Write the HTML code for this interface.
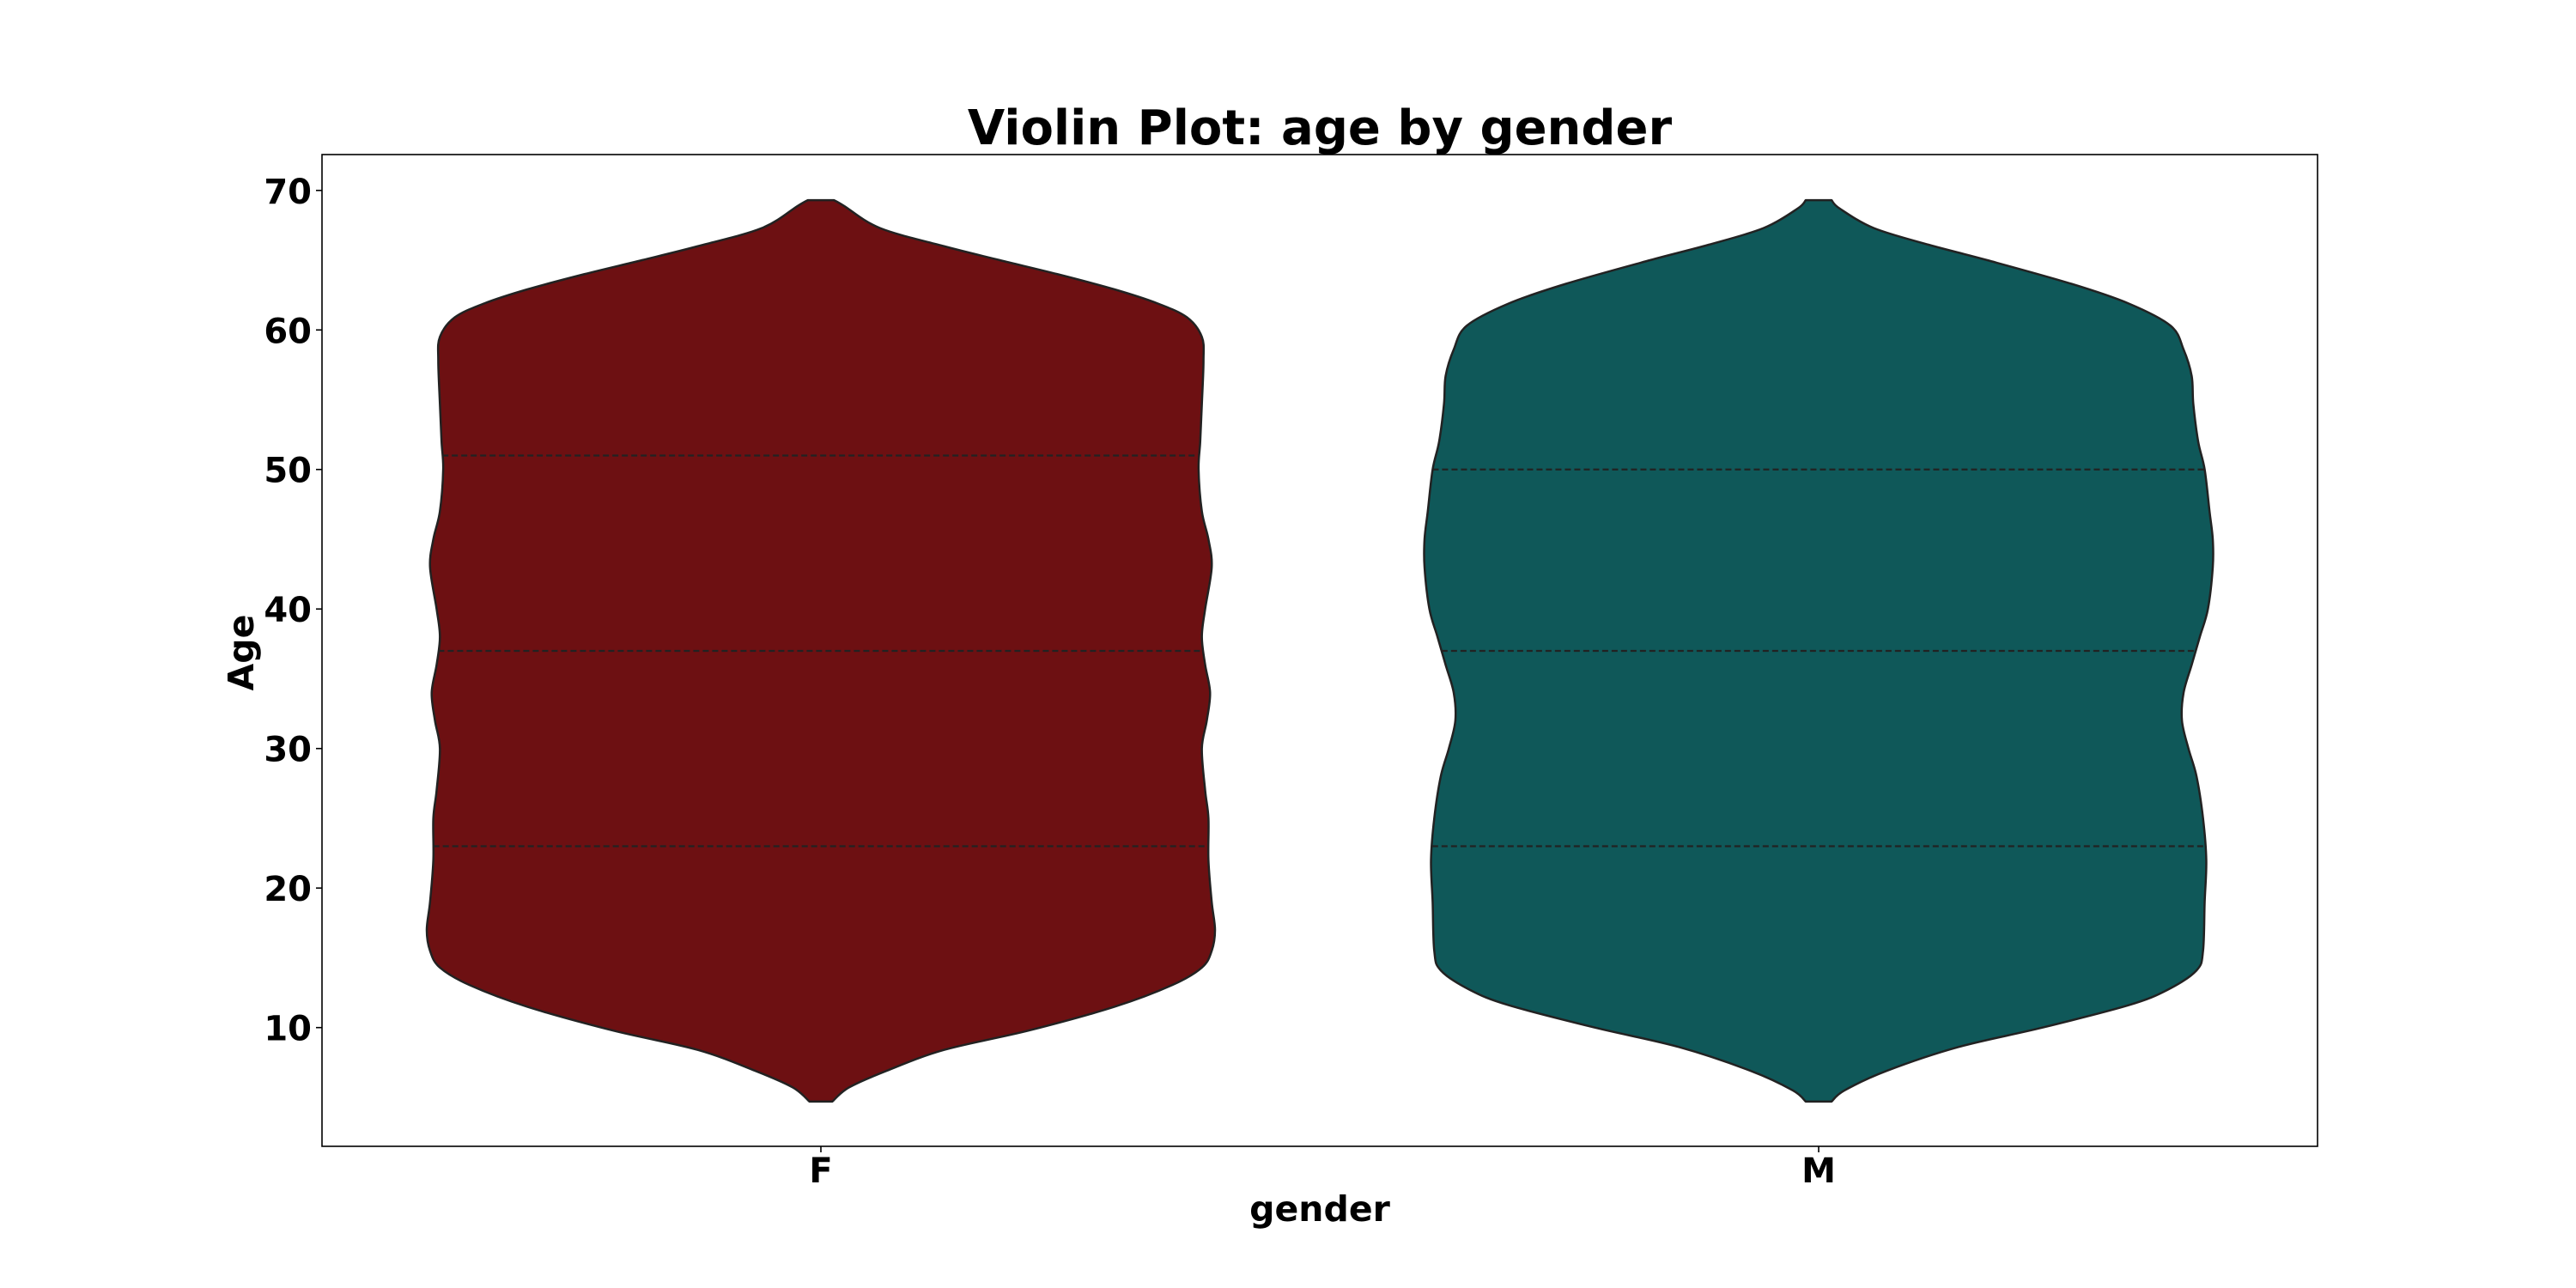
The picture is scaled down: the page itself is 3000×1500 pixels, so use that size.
<!DOCTYPE html>
<html><head><meta charset="utf-8"><style>
html,body{margin:0;padding:0;background:#fff}
svg{display:block}
text{font-family:"DejaVu Sans","Liberation Sans",sans-serif;font-weight:bold;fill:#000}
</style></head><body>
<svg id="chart" width="3000" height="1500" viewBox="0 0 3000 1500" xmlns="http://www.w3.org/2000/svg">
<rect width="3000" height="1500" fill="#fff"/>
<text x="1537" y="168" font-size="56" text-anchor="middle">Violin Plot: age by gender</text>
<g id="plot"></g>
<text x="1537" y="1422" font-size="41" text-anchor="middle">gender</text>
<text transform="translate(295,760) rotate(-90)" font-size="41" text-anchor="middle">Age</text>
</svg>
<script>
const categories = ["F", "M"];
const colors = ["#6d1012", "#0f5859"];
const agesF = [69.3, 68.9, 67.3, 66, 65, 64, 62.9, 61.9, 60.9, 59.5, 57.8, 54.7, 52, 50, 47, 45, 43, 40, 38, 36, 34, 32, 30, 27, 25, 22, 19, 17, 15.5, 14.3, 13.05, 11.5, 9.8, 8.4, 6.9, 5.7, 4.7];
const densityF = [8, 14, 36, 75, 109, 144, 179, 205, 223, 232, 233, 232, 231, 230, 232, 236, 238, 234, 232, 234, 237, 235, 232, 234, 236, 236, 238, 240, 238, 232, 214, 179, 127, 75, 40, 17, 7];
const agesM = [69.3, 68.7, 67.3, 66.1, 65, 63.3, 61.9, 60.3, 58.6, 56.7, 54.7, 52, 50, 47, 45, 43, 40, 38, 36, 34, 32, 30, 28, 25, 22, 19, 15.5, 14.1, 12.7, 11.6, 10, 8.6, 6.9, 5.5, 4.7];
const densityM = [8, 13, 34, 68, 104, 156, 191, 217, 225, 230, 231, 234, 238, 241, 243, 243, 240, 235, 230, 225, 224, 228, 233, 237, 239, 238, 237, 233, 215, 191, 138, 86, 42, 16, 8];
const quartilesF = [23, 37, 51];
const quartilesM = [23, 37, 50];
const yTicks = [10, 20, 30, 40, 50, 60, 70];

const L = 375, R = 2699, T = 180, B = 1335;
const yMin = 1.49, yMax = 72.57, xMin = -0.5, xMax = 1.5;
const X = v => L + (v - xMin) / (xMax - xMin) * (R - L);
const Y = v => B - (v - yMin) / (yMax - yMin) * (B - T);
const unitPx = (R - L) / (xMax - xMin);
const NS = "http://www.w3.org/2000/svg";
const plot = document.getElementById('plot');
function mk(tag, attrs) { const e = document.createElementNS(NS, tag); for (const k in attrs) e.setAttribute(k, attrs[k]); plot.appendChild(e); return e; }

const agesAll = [agesF, agesM];
const dens = [densityF, densityM];
const quarts = [quartilesF, quartilesM];
categories.forEach((c, i) => {
  const d = dens[i];
  const ages = agesAll[i];
  const maxD = Math.max(...d);
  const hw = a => d[a] / maxD * 0.395 * unitPx;
  const cx = X(i);
  const n = ages.length;
  const right = [], left = [];
  for (let k = 0; k < n; k++) right.push([cx + hw(k), Y(ages[k])]);
  for (let k = n - 1; k >= 0; k--) left.push([cx - hw(k), Y(ages[k])]);
  function side(arr) {
    let s = "";
    for (let k = 0; k < arr.length - 1; k++) {
      const p0 = arr[Math.max(k - 1, 0)], p1 = arr[k], p2 = arr[k + 1], p3 = arr[Math.min(k + 2, arr.length - 1)];
      const c1 = [p1[0] + (p2[0] - p0[0]) / 6, p1[1] + (p2[1] - p0[1]) / 6];
      const c2 = [p2[0] - (p3[0] - p1[0]) / 6, p2[1] - (p3[1] - p1[1]) / 6];
      s += ` C${c1[0]},${c1[1]} ${c2[0]},${c2[1]} ${p2[0]},${p2[1]}`;
    }
    return s;
  }
  const dStr = `M${right[0][0]},${right[0][1]}` + side(right) + ` L${left[0][0]},${left[0][1]}` + side(left) + " Z";
  const p = mk('path', { d: dStr, fill: colors[i], stroke: '#222', 'stroke-width': 2.5, 'stroke-linejoin': 'round' });
  
  
  quarts[i].forEach((q, j) => {
    let w = 0;
    for (let k = 0; k < n - 1; k++) {
      if (ages[k] >= q && ages[k + 1] <= q) { const t = (ages[k] - q) / (ages[k] - ages[k + 1]); w = hw(k) * (1 - t) + hw(k + 1) * t; break; }
    }
    const ln = mk('line', { x1: cx - w, x2: cx + w, y1: Y(q), y2: Y(q), stroke: '#222', 'stroke-width': 2.2, 'stroke-dasharray': '7,4' });
    
    
  });
  const tk = mk('line', { x1: cx, x2: cx, y1: B, y2: B + 7, stroke: '#000', 'stroke-width': 1.6 });
  
  
  const lb = mk('text', { x: cx, y: 1377, 'font-size': 40, 'text-anchor': 'middle' });
  lb.textContent = c;
  
  
});
yTicks.forEach(v => {
  const tk = mk('line', { x1: L - 7, x2: L, y1: Y(v), y2: Y(v), stroke: '#000', 'stroke-width': 1.6 });
  
  
  const lb = mk('text', { x: L - 12, y: Y(v) + 15, 'font-size': 40, 'text-anchor': 'end' });
  lb.textContent = v;
  
  
});
const frame = mk('rect', { x: L, y: T, width: R - L, height: B - T, fill: 'none', stroke: '#000', 'stroke-width': 1.6 });


</script>
</body></html>
